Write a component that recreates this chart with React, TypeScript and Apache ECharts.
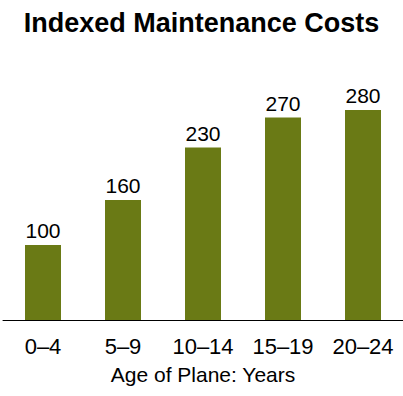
import React, { useEffect, useRef } from "react";
import * as echarts from "echarts";

const categories = ["0–4", "5–9", "10–14", "15–19", "20–24"];
const values = [100, 160, 230, 270, 280];
const titleText = "Indexed Maintenance Costs";
const xAxisName = "Age of Plane: Years";

export default function App() {
  const ref = useRef<HTMLDivElement>(null);
  useEffect(() => {
    const chart = echarts.init(ref.current!, null, { renderer: "svg" });
    chart.setOption({
      animation: false,
      title: {
        text: titleText,
        left: "center",
        top: 4,
        textStyle: { fontFamily: "Liberation Sans, Arial", fontWeight: "bold", fontSize: 27, color: "#000" },
      },
      grid: { left: 3, right: 0, top: 95, bottom: 76 },
      xAxis: {
        type: "category",
        data: categories,
        axisLine: { lineStyle: { color: "#000", width: 1 } },
        axisTick: { show: false },
        axisLabel: { fontFamily: "Liberation Sans, Arial", fontSize: 22, color: "#000", margin: 15 },
        name: xAxisName,
        nameLocation: "middle",
        nameGap: 44,
        nameTextStyle: { fontFamily: "Liberation Sans, Arial", fontSize: 21, color: "#000" },
      },
      yAxis: { type: "value", min: 0, max: 300, show: false },
      series: [
        {
          type: "bar",
          data: values,
          barWidth: 36,
          itemStyle: { color: "#6A7A15" },
          label: {
            show: true,
            position: "top",
            distance: 4,
            fontFamily: "Liberation Sans, Arial",
            fontSize: 21,
            color: "#000",
          },
        },
      ],
    });
    return () => chart.dispose();
  }, []);
  return <div ref={ref} style={{ width: 403, height: 396, position: "absolute", left: 0, top: 0 }} />;
}
